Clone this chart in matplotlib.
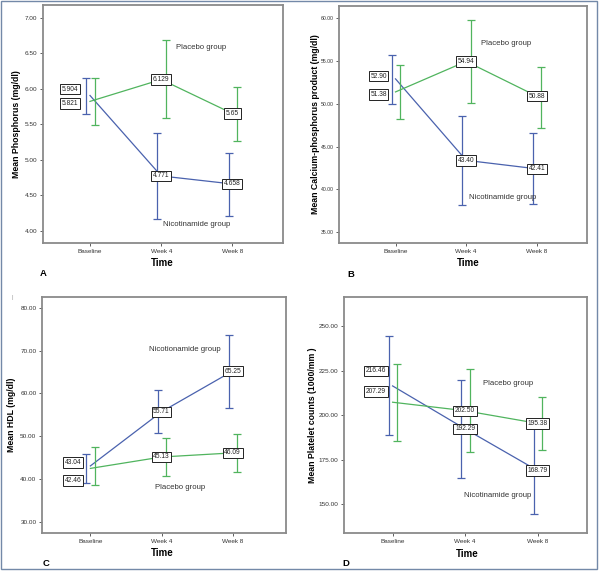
import matplotlib.pyplot as plt
from matplotlib.patches import Rectangle

plt.rcParams['font.family'] = ['Liberation Sans', 'DejaVu Sans']

W, H = 600, 571

times = ['Baseline', 'Week 4', 'Week 8']

# A - phosphorus
phos_nic = [5.904, 4.771, 4.658]
phos_nic_lo = [5.65, 4.16, 4.21]
phos_nic_hi = [6.15, 5.37, 5.10]
phos_pla = [5.821, 6.129, 5.65]
phos_pla_lo = [5.49, 5.58, 5.26]
phos_pla_hi = [6.15, 6.68, 6.03]
phos_nic_lbl = ['5.904', '4.771', '4.658']
phos_pla_lbl = ['5.821', '6.129', '5.65']
phos_ticks = [4.00, 4.50, 5.00, 5.50, 6.00, 6.50, 7.00]

# B - calcium-phosphorus product
caph_nic = [52.90, 43.40, 42.41]
caph_nic_lo = [50.0, 38.2, 38.3]
caph_nic_hi = [55.7, 48.6, 46.6]
caph_pla = [51.38, 54.94, 50.88]
caph_pla_lo = [48.2, 50.1, 47.2]
caph_pla_hi = [54.5, 59.8, 54.3]
caph_nic_lbl = ['52.90', '43.40', '42.41']
caph_pla_lbl = ['51.38', '54.94', '50.88']
caph_ticks = [35.0, 40.0, 45.0, 50.0, 55.0, 60.0]

# C - HDL
hdl_nic = [43.04, 55.71, 65.25]
hdl_nic_lo = [39.1, 50.7, 56.7]
hdl_nic_hi = [45.8, 60.7, 73.8]
hdl_pla = [42.46, 45.13, 46.09]
hdl_pla_lo = [38.6, 40.7, 41.7]
hdl_pla_hi = [47.4, 49.5, 50.5]
hdl_nic_lbl = ['43.04', '55.71', '65.25']
hdl_pla_lbl = ['42.46', '45.13', '46.09']
hdl_ticks = [30.0, 40.0, 50.0, 60.0, 70.0, 80.0]

# D - platelets
plat_nic = [216.46, 192.29, 168.79]
plat_nic_lo = [188.7, 164.5, 144.4]
plat_nic_hi = [244.4, 219.9, 193.2]
plat_pla = [207.29, 202.50, 195.38]
plat_pla_lo = [185.6, 179.1, 180.4]
plat_pla_hi = [228.8, 226.1, 210.0]
plat_nic_lbl = ['216.46', '192.29', '168.79']
plat_pla_lbl = ['207.29', '202.50', '195.38']
plat_ticks = [150.0, 175.0, 200.0, 225.0, 250.0]

BLUE = '#4a62ae'
GREEN = '#50b45e'
FRAME = '#8a8a8a'


def px_rect(left, top, right, bottom):
    return [left / W, 1 - bottom / H, (right - left) / W, (bottom - top) / H]


def bar(ax, x, mean, lo, hi, color):
    ax.errorbar(x, mean, yerr=[[mean - lo], [hi - mean]], fmt='none',
                ecolor=color, elinewidth=0.9, capsize=2.6, capthick=0.9)


def box(ax, x, y, s):
    ax.text(x, y, s, ha='center', va='center', fontsize=4.8, color='#222222',
            bbox=dict(boxstyle='square,pad=0.25', fc='white', ec='#222222', lw=0.7),
            zorder=5)


def painel(rect, xlim, ylim, yticks, nic, nic_lo, nic_hi, pla, pla_lo, pla_hi,
           nic_lbl, pla_lbl, base_dy, base_dx, ylabel, ylab_x, time_xy, letter, letter_xy,
           nic_txt, pla_txt, nic_name='Nicotinamide group', ytick_fs=4.6):
    ax = fig.add_axes(px_rect(*rect))
    xs = range(len(times))
    ax.plot(xs, nic, color=BLUE, lw=0.9)
    ax.plot(xs, pla, color=GREEN, lw=0.9)
    for i in xs:
        bar(ax, i - 0.055, nic[i], nic_lo[i], nic_hi[i], BLUE)
        bar(ax, i + 0.065, pla[i], pla_lo[i], pla_hi[i], GREEN)
    # value labels; baseline ones sit to the left
    box(ax, base_dx, nic[0] + base_dy[0], nic_lbl[0])
    box(ax, base_dx, pla[0] + base_dy[1], pla_lbl[0])
    for i in [1, 2]:
        box(ax, i, nic[i], nic_lbl[i])
        box(ax, i, pla[i], pla_lbl[i])
    ax.text(*nic_txt, nic_name, ha='center', va='center', fontsize=5.6, color='#333333')
    ax.text(*pla_txt, 'Placebo group', ha='center', va='center', fontsize=5.6, color='#333333')

    ax.set_xlim(*xlim)
    ax.set_ylim(*ylim)
    ax.set_xticks(list(xs))
    ax.set_xticklabels(times)
    ax.set_yticks(yticks)
    ax.set_yticklabels(['%.2f' % t for t in yticks])
    ax.tick_params(labelsize=4.6, length=2.5, width=0.6, pad=1.5, colors='#444444',
                   labelcolor='#333333')
    ax.tick_params(axis='y', labelsize=ytick_fs)
    for sp in ax.spines.values():
        sp.set_color(FRAME)
        sp.set_linewidth(1.3)

    fig.text(ylab_x / W, 1 - (rect[1] + rect[3]) / 2 / H, ylabel, rotation=90,
             ha='center', va='center', fontsize=6.3, fontweight='bold')
    fig.text(time_xy[0] / W, 1 - time_xy[1] / H, 'Time', ha='center', va='center',
             fontsize=7, fontweight='bold')
    fig.text(letter_xy[0] / W, 1 - letter_xy[1] / H, letter, ha='center', va='center',
             fontsize=6.8, fontweight='bold')
    return ax


fig = plt.figure(figsize=(6, 5.71), dpi=100)

painel((43, 5, 283, 243), (-0.66, 2.71), (3.827, 7.178), phos_ticks,
       phos_nic, phos_nic_lo, phos_nic_hi, phos_pla, phos_pla_lo, phos_pla_hi,
       phos_nic_lbl, phos_pla_lbl, (0.09, -0.03), -0.28,
       'Mean Phosphorus (mg/dl)', 17, (162, 263), 'A', (43, 273),
       (1.50, 4.09), (1.56, 6.58))

painel((339, 6, 587, 243), (-0.80, 2.71), (33.76, 61.4), caph_ticks,
       caph_nic, caph_nic_lo, caph_nic_hi, caph_pla, caph_pla_lo, caph_pla_hi,
       caph_nic_lbl, caph_pla_lbl, (0.3, -0.3), -0.24,
       'Mean Calcium-phosphorus product (mg/dl)', 316, (468, 263), 'B', (351, 274),
       (1.51, 39.04), (1.56, 57.0), ytick_fs=3.7)

painel((42, 297, 286, 533), (-0.68, 2.75), (27.34, 82.58), hdl_ticks,
       hdl_nic, hdl_nic_lo, hdl_nic_hi, hdl_pla, hdl_pla_lo, hdl_pla_hi,
       hdl_nic_lbl, hdl_pla_lbl, (0.8, -2.8), -0.24,
       'Mean HDL (mg/dl)', 12, (162, 553), 'C', (46, 564),
       (1.33, 70.2), (1.26, 38.05), nic_name='Nicotionamide group')

painel((344, 297, 587, 533), (-0.67, 2.68), (133.7, 266.5), plat_ticks,
       plat_nic, plat_nic_lo, plat_nic_hi, plat_pla, plat_pla_lo, plat_pla_hi,
       plat_nic_lbl, plat_pla_lbl, (8.5, 6.0), -0.23,
       'Mean Platelet counts (1000/mm )', 313, (467, 554), 'D', (346, 564),
       (1.45, 154.9), (1.59, 217.9))

# small mark at top left of panel C
fig.text(12 / W, 1 - 298 / H, '|', fontsize=4, color='#999999', ha='center', va='center')

# outer frame of the whole figure
fig.patches.append(Rectangle((1 / W, 1 - 569 / H), 596 / W, 568 / H, fill=False,
                             ec='#7389a8', lw=1.0, transform=fig.transFigure))

fig.savefig('out.png', dpi=100)
